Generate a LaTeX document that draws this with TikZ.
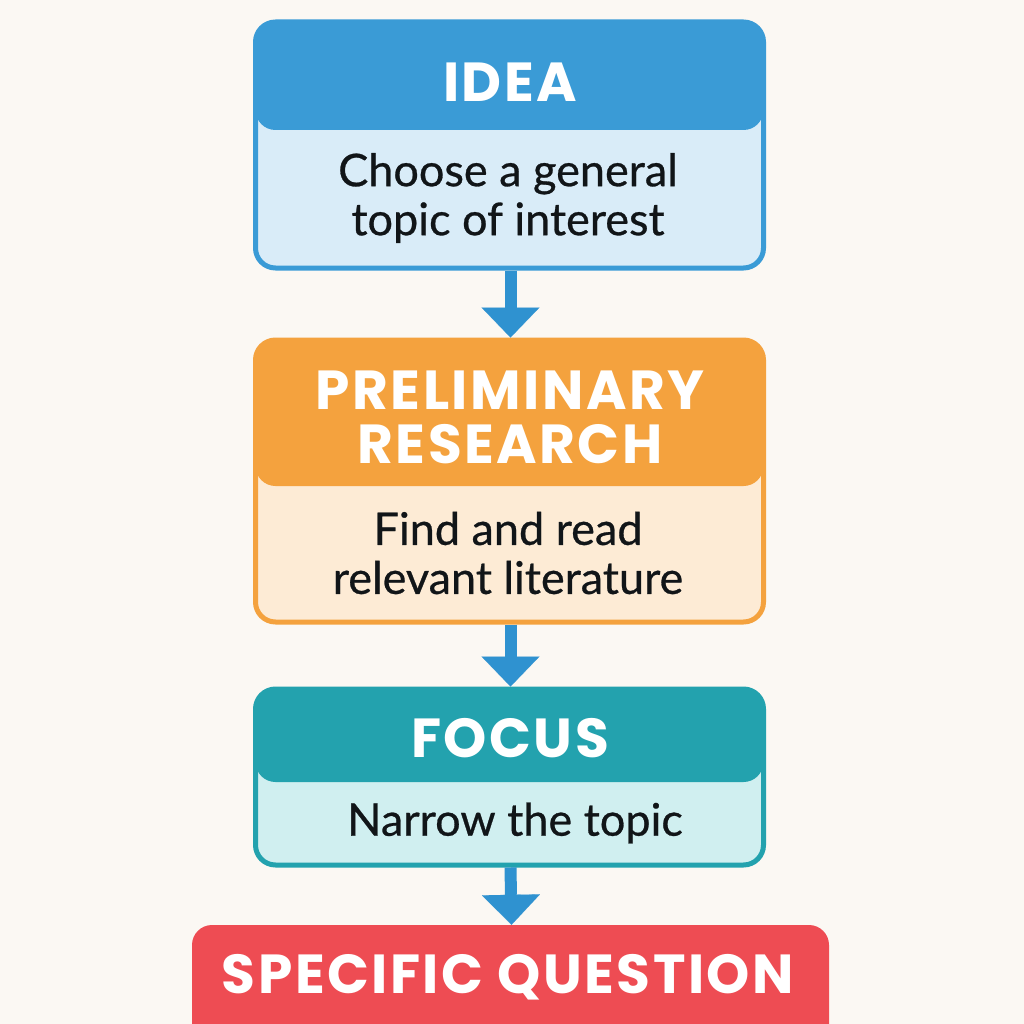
\documentclass[tikz,border=0pt]{standalone}
\usepackage{fontspec}
\usetikzlibrary{arrows.meta}
\newfontfamily\ttlfont[LetterSpace=4.5]{Poppins}
\newfontfamily\bodyfont[FakeBold=0.6]{Lato}
\definecolor{bg}{HTML}{FBF8F3}
\definecolor{blueH}{HTML}{3A9BD6}
\definecolor{blueB}{HTML}{D9ECF8}
\definecolor{orangeH}{HTML}{F4A23E}
\definecolor{orangeB}{HTML}{FDEBD5}
\definecolor{tealH}{HTML}{23A2AE}
\definecolor{tealB}{HTML}{D0EFF0}
\definecolor{redH}{HTML}{EE4C53}
\definecolor{arrowC}{HTML}{2F92D0}
\definecolor{inkC}{HTML}{111518}
\tikzset{
  card/.style n args={3}{draw=#1, fill=#2, line width=5pt, rounded corners=20pt,
    minimum width=508pt, inner sep=0pt,
    path picture={\fill[#1] (path picture bounding box.north west) rectangle ([yshift=-#3]path picture bounding box.north east);}},
  ttl/.style={text=white, font=\ttlfont\bfseries\fontsize{55}{54}\selectfont, align=center, inner sep=0pt},
  bdy/.style={text=inkC, font=\bodyfont\fontsize{45}{49}\selectfont, align=center, inner sep=0pt},
  flow/.style={draw=arrowC, line width=12pt, -{Triangle[width=58pt,length=30pt,line width=0.1pt]}}
}
\begin{document}
\begin{tikzpicture}[x=1pt,y=-1pt]
\useasboundingbox (0,0) rectangle (1024,1024);
\clip (0,0) rectangle (1024,1024);
\fill[bg] (0,0) rectangle (1024,1024);
% cards
\node[card={blueH}{blueB}{108pt}, minimum height=246pt] (b1) at (509.5,145) {};
\node[card={orangeH}{orangeB}{146pt}, minimum height=282pt] (b2) at (509.5,481) {};
\node[card={tealH}{tealB}{93pt}, minimum height=176pt] (b3) at (509.5,777) {};
\node[fill=redH, rounded corners=20pt, minimum width=637pt, minimum height=130pt, inner sep=0pt] (b4) at (510.5,990) {};
% texts
\node[ttl] (t1) at (510,82) {IDEA};
\node[bdy] (d1) at (508,198) {Choose a general\\topic of interest};
\node[ttl] (t2) at (510,417) {PRELIMINARY\\RESEARCH};
\node[bdy] (d2) at (508,553) {Find and read\\relevant literature};
\node[ttl] (t3) at (510,738) {FOCUS};
\node[bdy] (d3) at (515,823) {Narrow the topic};
\node[ttl] (t4) at (508,977) {SPECIFIC QUESTION};
% connectors
\draw[flow] ([xshift=1pt]b1.south) -- ([xshift=1pt]b2.north);
\draw[flow] ([xshift=1pt]b2.south) -- ([xshift=1pt]b3.north);
\draw[flow] ([xshift=1pt]b3.south) -- ([xshift=1pt]b4.north);
\end{tikzpicture}
\end{document}
